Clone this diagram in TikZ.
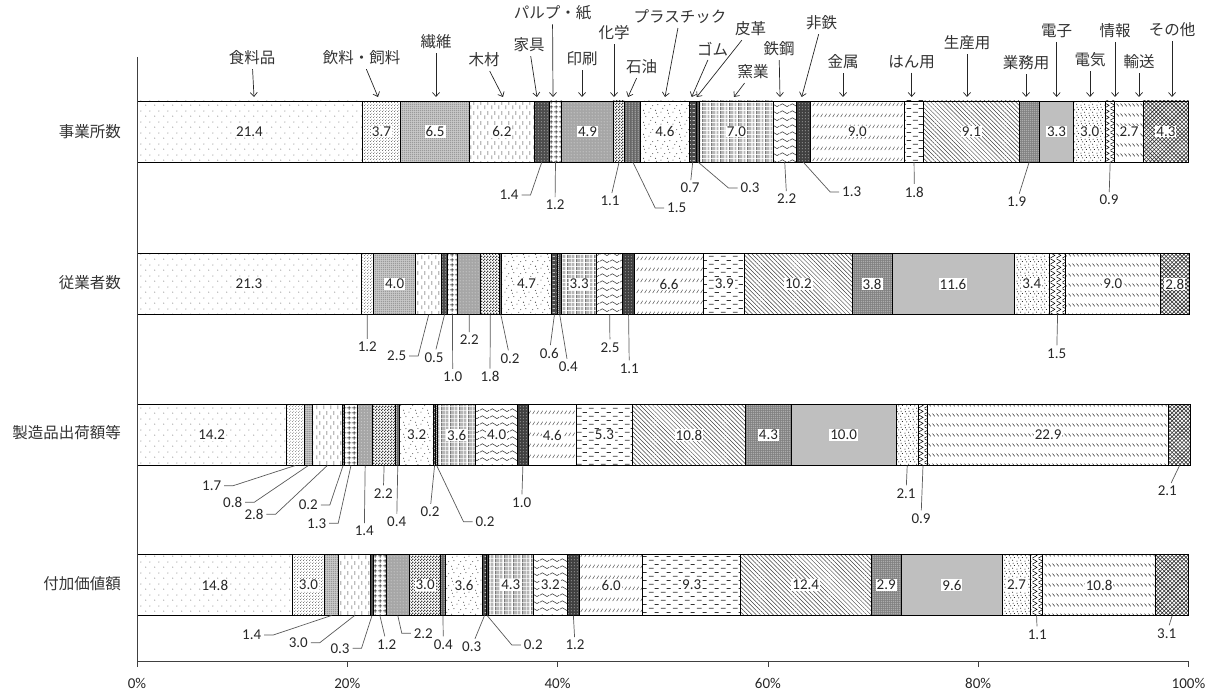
\documentclass[tikz,border=0pt]{standalone}
\usepackage{fontspec}
\setmainfont{Carlito}
\newfontfamily\jp{Noto Sans CJK JP}
\usetikzlibrary{patterns,patterns.meta,arrows.meta}

\tikzdeclarepattern{name=pfood, type=uncolored, bottom left={(0pt,0pt)}, top right={(9pt,11pt)}, tile size={(9pt,11pt)},
  code={\tikzset{x=1pt,y=1pt}\fill (2,2) circle (0.55pt) (6.5,7.5) circle (0.55pt);}}
\tikzdeclarepattern{name=pfine, type=uncolored, bottom left={(0pt,0pt)}, top right={(2.6pt,2.6pt)}, tile size={(2.6pt,2.6pt)},
  code={\tikzset{x=1pt,y=1pt}\fill (0.65,0.65) circle (0.45pt) (1.95,1.95) circle (0.45pt);}}
\tikzdeclarepattern{name=pdense, type=uncolored, bottom left={(0pt,0pt)}, top right={(2.2pt,2.2pt)}, tile size={(2.2pt,2.2pt)},
  code={\tikzset{x=1pt,y=1pt}\fill (1.1,1.1) circle (0.6pt);}}
\tikzdeclarepattern{name=pdot, type=uncolored, bottom left={(0pt,0pt)}, top right={(3pt,3pt)}, tile size={(3pt,3pt)},
  code={\tikzset{x=1pt,y=1pt}\fill (1.5,1.5) circle (0.55pt);}}
\tikzdeclarepattern{name=pvdash, type=uncolored, bottom left={(0pt,0pt)}, top right={(7pt,10pt)}, tile size={(7pt,10pt)},
  code={\tikzset{x=1pt,y=1pt}\draw[line width=0.6pt] (2,1) -- (2,5) (5.5,5.5) -- (5.5,9.5);}}
\tikzdeclarepattern{name=pgrid, type=uncolored, bottom left={(0pt,0pt)}, top right={(4.5pt,4.5pt)}, tile size={(4.5pt,4.5pt)},
  code={\tikzset{x=1pt,y=1pt}\draw[line width=0.6pt] (0,2.25) -- (4.5,2.25) (2.25,0) -- (2.25,4.5);}}
\tikzdeclarepattern{name=pcheck, type=uncolored, bottom left={(0pt,0pt)}, top right={(3pt,3pt)}, tile size={(3pt,3pt)},
  code={\tikzset{x=1pt,y=1pt}\fill (0,0) rectangle (1.5,1.5) (1.5,1.5) rectangle (3,3);}}
\tikzdeclarepattern{name=pvline, type=uncolored, bottom left={(0pt,0pt)}, top right={(2.5pt,2pt)}, tile size={(2.5pt,2pt)},
  code={\tikzset{x=1pt,y=1pt}\draw[line width=0.6pt] (1.25,0) -- (1.25,2);}}
\tikzdeclarepattern{name=pscatter, type=uncolored, bottom left={(0pt,0pt)}, top right={(12pt,12pt)}, tile size={(12pt,12pt)},
  code={\tikzset{x=1pt,y=1pt}\fill (1,2) circle (0.55pt) (5,9) circle (0.55pt) (8,4) circle (0.55pt)
    (10.5,10) circle (0.55pt) (3,6) circle (0.55pt) (9,0.8) circle (0.55pt);}}
\tikzdeclarepattern{name=phdash, type=uncolored, bottom left={(0pt,0pt)}, top right={(4pt,4pt)}, tile size={(4pt,4pt)},
  code={\tikzset{x=1pt,y=1pt}\draw[line width=0.7pt] (0.7,2) -- (3.3,2);}}
\tikzdeclarepattern{name=pstripe, type=uncolored, bottom left={(0pt,0pt)}, top right={(9pt,4pt)}, tile size={(9pt,4pt)},
  code={\tikzset{x=1pt,y=1pt}\draw[line width=0.5pt] (0.5,0) -- (0.5,4) (2,0) -- (2,4) (3.5,0) -- (3.5,4)
    (5.5,0) -- (5.5,4) (7.5,0) -- (7.5,4);}}
\tikzdeclarepattern{name=pwave, type=uncolored, bottom left={(0pt,0pt)}, top right={(10pt,6.5pt)}, tile size={(10pt,6.5pt)},
  code={\tikzset{x=1pt,y=1pt}\draw[line width=0.55pt] (0,3) sin (2.5,4.5) cos (5,3) sin (7.5,1.5) cos (10,3);}}
\tikzdeclarepattern{name=pslash, type=uncolored, bottom left={(0pt,0pt)}, top right={(4pt,11pt)}, tile size={(4pt,11pt)},
  code={\tikzset{x=1pt,y=1pt}\draw[line width=0.55pt] (0.8,1) -- (3.2,4.5);}}
\tikzdeclarepattern{name=pdash, type=uncolored, bottom left={(0pt,0pt)}, top right={(12pt,8pt)}, tile size={(12pt,8pt)},
  code={\tikzset{x=1pt,y=1pt}\draw[line width=0.8pt] (1,2) -- (6,2) (7,6) -- (11.5,6);}}
\tikzdeclarepattern{name=prand, type=uncolored, bottom left={(0pt,0pt)}, top right={(8pt,8pt)}, tile size={(8pt,8pt)},
  code={\tikzset{x=1pt,y=1pt}\fill (1,1) circle (0.55pt) (5,2) circle (0.55pt) (3,4.5) circle (0.55pt)
    (7,5) circle (0.55pt) (1.5,7) circle (0.55pt) (5.5,7.5) circle (0.55pt);}}
\tikzdeclarepattern{name=pzig, type=uncolored, bottom left={(0pt,0pt)}, top right={(6pt,6pt)}, tile size={(6pt,6pt)},
  code={\tikzset{x=1pt,y=1pt}\draw[line width=0.6pt] (0.5,0) -- (5.5,3) -- (0.5,6);}}
\tikzdeclarepattern{name=pback, type=uncolored, bottom left={(0pt,0pt)}, top right={(4pt,10pt)}, tile size={(4pt,10pt)},
  code={\tikzset{x=1pt,y=1pt}\draw[line width=0.6pt] (0.6,7) -- (3.4,4);}}

\tikzstyle{sec1} = [pattern=pfood, pattern color=black!65]
\tikzstyle{sec2} = [pattern=pfine, pattern color=black!70]
\tikzstyle{sec3} = [fill=black!20, postaction={pattern=pdense, pattern color=black!75}]
\tikzstyle{sec4} = [pattern=pvdash, pattern color=black!75]
\tikzstyle{sec5} = [fill=black!70, postaction={pattern=pdot, pattern color=white}]
\tikzstyle{sec6} = [pattern=pgrid, pattern color=black]
\tikzstyle{sec7} = [fill=black!35, postaction={pattern=pdot, pattern color=white}]
\tikzstyle{sec8} = [pattern=pcheck, pattern color=black!75]
\tikzstyle{sec9} = [fill=black!60, postaction={pattern=pvline, pattern color=white}]
\tikzstyle{sec10} = [pattern=pscatter, pattern color=black!75]
\tikzstyle{sec11} = [fill=black!70, postaction={pattern=phdash, pattern color=white}]
\tikzstyle{sec12} = [fill=black!70, postaction={pattern=pvline, pattern color=white}]
\tikzstyle{sec13} = [pattern=pstripe, pattern color=black!80]
\tikzstyle{sec14} = [pattern=pwave, pattern color=black!80]
\tikzstyle{sec15} = [fill=black!75, postaction={pattern=pdot, pattern color=white}]
\tikzstyle{sec16} = [pattern=pslash, pattern color=black!70]
\tikzstyle{sec17} = [pattern=pdash, pattern color=black!80]
\tikzstyle{sec18} = [pattern={Lines[angle=-45,distance=3pt,line width=0.5pt]}, pattern color=black!75]
\tikzstyle{sec19} = [fill=black!50, postaction={pattern=pdense, pattern color=white}]
\tikzstyle{sec20} = [fill=black!25]
\tikzstyle{sec21} = [pattern=prand, pattern color=black]
\tikzstyle{sec22} = [pattern=pzig, pattern color=black]
\tikzstyle{sec23} = [pattern=pback, pattern color=black!80]
\tikzstyle{sec24} = [pattern={Hatch[angle=45,distance=2.8pt,line width=0.6pt]}, pattern color=black!80]

\tikzstyle{seg} = [draw=black, line width=0.9pt]
\tikzstyle{inlab} = [fill=white, inner sep=1pt, text=black!85, font=\fontsize{15}{15}\selectfont]
\tikzstyle{outlab} = [inner sep=1pt, outer sep=2pt, text=black!85, font=\fontsize{15}{15}\selectfont]
\tikzstyle{lead} = [draw=black!65, line width=0.7pt]
\tikzstyle{catlab} = [inner sep=1pt, outer sep=3pt, text=black!80, font=\jp\fontsize{15.5}{16}\selectfont]
\tikzstyle{rowlab} = [inner sep=1pt, text=black!80, font=\jp\fontsize{15.5}{16}\selectfont]
\tikzstyle{catarrow} = [-{Straight Barb[length=4pt,width=7pt]}, line width=0.7pt, black!85]
\tikzstyle{axis} = [draw=black!75, line width=0.8pt]

\begin{document}
\begin{tikzpicture}[x=1pt, y=-1pt]
\useasboundingbox (0,0) rectangle (1218,690);

% bars
\foreach \r/\yy/\vals in {
  1/101/{21.4/1,3.7/1,6.5/1,6.2/1,1.4/0,1.2/0,4.9/1,1.1/0,1.5/0,4.6/1,0.7/0,0.3/0,7.0/1,2.2/0,1.3/0,9.0/1,1.8/0,9.1/1,1.9/0,3.3/1,3.0/1,0.9/0,2.7/1,4.3/1},
  2/253.5/{21.3/1,1.2/0,4.0/1,2.5/0,0.5/0,1.0/0,2.2/0,1.8/0,0.2/0,4.7/1,0.6/0,0.4/0,3.3/1,2.5/0,1.1/0,6.6/1,3.9/1,10.2/1,3.8/1,11.6/1,3.4/1,1.5/0,9.0/1,2.8/1},
  3/404.5/{14.2/1,1.7/0,0.8/0,2.8/0,0.2/0,1.3/0,1.4/0,2.2/0,0.4/0,3.2/1,0.2/0,0.2/0,3.6/1,4.0/1,1.0/0,4.6/1,5.3/1,10.8/1,4.3/1,10.0/1,2.1/0,0.9/0,22.9/1,2.1/0},
  4/554.5/{14.8/1,3.0/1,1.4/0,3.0/0,0.3/0,1.2/0,2.2/0,3.0/1,0.4/0,3.6/1,0.3/0,0.2/0,4.3/1,3.2/1,1.2/0,6.0/1,9.3/1,12.4/1,2.9/1,9.6/1,2.7/1,1.1/0,10.8/1,3.1/0}}{
  \gdef\cum{0}
  \foreach \v/\f [count=\i] in \vals {
    \pgfmathsetmacro\xa{137+10.515*\cum}
    \pgfmathsetmacro\cumnew{\cum+\v}
    \xdef\cum{\cumnew}
    \pgfmathsetmacro\xe{137+10.515*\cum}
    \pgfmathsetmacro\xm{(\xa+\xe)/2}
    \pgfmathsetmacro\yb{\yy+61}
    \path[sec\i] (\xa,\yy) rectangle (\xe,\yb);
    \draw[seg] (\xa,\yy) rectangle (\xe,\yb);
    \coordinate (r\r-\i) at (\xm,\yb);
    \ifnum\f=1 \node[inlab] (v\r-\i) at (\xm,\yy+30.5) {\v}; \fi
  }
}

% row names
\foreach \r/\y/\txt in {1/132/事業所数, 2/283/従業者数, 3/433/製造品出荷額等, 4/584/付加価値額}
  \node[rowlab, anchor=east] (row\r) at (122,\y) {\txt};

% industry names
\foreach \i/\x/\y/\tx/\txt in {1/252/58/254/食料品, 2/361.7/58/378/飲料・飼料, 3/436/42/436/繊維, 4/484/60/503/木材,
  5/529/45/537/家具, 6/552.5/13/553/パルプ・紙, 7/582/59/582/印刷, 8/614/33/614/化学, 9/641.7/67/628/石油,
  10/680/17/665/プラスチック, 11/712.7/49/691.7/ゴム, 12/750.7/29/696.7/皮革, 13/753/72/734/窯業,
  14/779/49/780/鉄鋼, 15/821.7/23/801.7/非鉄, 16/843/62/843/金属, 17/911.7/62/911.7/はん用,
  18/967/43/967/生産用, 19/1026/63/1026/業務用, 20/1056.7/31/1056.7/電子, 21/1090/60/1090/電気,
  22/1115/31/1115/情報, 23/1139/62/1139/輸送, 24/1172/30/1172/その他}{
  \node[catlab] (c\i) at (\x,\y) {\txt};
  \coordinate (a\i) at (\tx,97);
  \draw[catarrow] (c\i) -- (a\i);
}

% small values, straight leaders
\foreach \r/\i/\x/\y/\v in {1/6/555/205/1.2, 1/8/610/201/1.1, 1/11/690/188/0.7, 1/14/786.7/199/2.2, 1/17/914.3/192/1.8,
  1/19/1016.7/201.7/1.9, 1/22/1109/200/0.9,
  2/2/367.3/346.7/1.2, 2/5/434/357.3/0.5, 2/6/452.7/376.7/1.0, 2/7/469.3/340/2.2, 2/8/490/376.7/1.8, 2/9/510/358.3/0.2,
  2/11/549.3/353.3/0.6, 2/12/568.3/366.7/0.4, 2/14/610/347.3/2.5, 2/15/629.3/368.3/1.1, 2/22/1056.7/353.3/1.5,
  3/7/364.3/531/1.4, 3/8/383.3/493.3/2.2, 3/9/396.7/521.7/0.4, 3/11/430/511.7/0.2, 3/15/521.7/502.3/1.0,
  3/21/906/493.3/2.1, 3/22/921/518.3/0.9, 3/24/1167.3/491/2.1,
  4/6/386.7/644.3/1.2, 4/9/443.3/644.3/0.4, 4/11/471.7/646.7/0.3, 4/15/575/645/1.2, 4/22/1037.3/634.3/1.1,
  4/24/1166.7/633.3/3.1}{
  \node[outlab] (l\r-\i) at (\x,\y) {\v};
  \draw[lead] (r\r-\i) -- (l\r-\i);
}

% small values, leader leaves to the right
\foreach \r/\i/\x/\y/\v in {1/5/509/195/1.4, 2/4/396.7/356/2.5, 3/2/211.7/485.7/1.7, 3/3/232.7/502.3/0.8,
  3/4/254/514.3/2.8, 3/5/308.3/505/0.2, 3/6/316.7/523.3/1.3, 4/3/251.7/635/1.4, 4/4/298.3/642.7/3.0,
  4/5/340/648.3/0.3}{
  \node[outlab] (l\r-\i) at (\x,\y) {\v};
  \draw[lead] (l\r-\i.east) -- ++(9,0) -- (r\r-\i);
}

% small values, leader leaves to the left
\foreach \r/\i/\x/\y/\v in {1/9/676.7/208/1.5, 1/12/750/188/0.3, 1/15/851.7/192/1.3, 3/12/485/521.7/0.2,
  4/7/423.3/633.3/2.2, 4/12/533.3/645/0.2}{
  \node[outlab] (l\r-\i) at (\x,\y) {\v};
  \draw[lead] (l\r-\i.west) -- ++(-9,0) -- (r\r-\i);
}

% axes
\draw[axis] (137,57) -- (137,661) -- (1188.5,661);
\foreach \p in {0,20,...,100}{
  \pgfmathsetmacro\xt{137+10.515*\p}
  \draw[axis] (\xt,661) -- (\xt,667);
  \node[outlab] (tk\p) at (\xt,683) {\p\%};
}

\end{tikzpicture}
\end{document}
